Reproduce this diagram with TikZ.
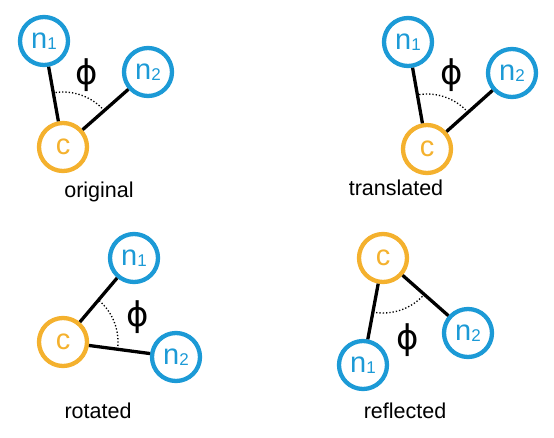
\documentclass[tikz,border=0pt]{standalone}
\usepackage{fontspec}
\setmainfont{Liberation Sans}
\newfontfamily\phifont{DejaVu Sans}
\usetikzlibrary{angles}
\definecolor{nblue}{HTML}{1C9AD6}
\definecolor{corange}{HTML}{F4B12E}
\newcommand{\nlab}[1]{n\raisebox{-1.5pt}{\fontsize{17}{17}\selectfont #1}}
\begin{document}
\begin{tikzpicture}[x=1pt,y=1pt,
  atom/.style={circle,line width=4.3pt,minimum size=48pt,inner sep=0pt,font=\fontsize{29}{29}\selectfont},
  nat/.style={atom,draw=nblue,text=nblue},
  cat/.style={atom,draw=corange,text=corange},
  bond/.style={line width=3.3pt,black},
  arcst/.style={draw,dotted,line width=1.3pt,angle radius=55pt},
  phil/.style={font=\phifont\fontsize{34}{34}\selectfont,inner sep=0pt},
  captxt/.style={font=\fontsize{21.5}{21.5}\selectfont,anchor=base,inner sep=0pt}]
\useasboundingbox (0,0) rectangle (554,-437);
% original
\node[nat] (a1) at (44,-41) {\nlab{1}};
\node[nat] (a2) at (148,-72) {\nlab{2}};
\node[cat] (ac) at (63,-147) {c};
\draw[bond] (ac) -- (a1);
\draw[bond] (ac) -- (a2);
\pic[arcst] {angle = a2--ac--a1};
\node[phil] (ap) at (87,-75) {ϕ};
\node[captxt] (at) at (99,-197) {original};
% translated
\node[nat] (b1) at (408,-42) {\nlab{1}};
\node[nat] (b2) at (512,-73) {\nlab{2}};
\node[cat] (bc) at (427,-149) {c};
\draw[bond] (bc) -- (b1);
\draw[bond] (bc) -- (b2);
\pic[arcst] {angle = b2--bc--b1};
\node[phil] (bp) at (452,-75) {ϕ};
\node[captxt] (bt) at (396,-195) {translated};
% rotated
\node[nat] (r1) at (134,-258) {\nlab{1}};
\node[nat] (r2) at (176,-357) {\nlab{2}};
\node[cat] (rc) at (63,-342) {c};
\draw[bond] (rc) -- (r1);
\draw[bond] (rc) -- (r2);
\pic[arcst] {angle = r2--rc--r1};
\node[phil] (rp) at (138,-317) {ϕ};
\node[captxt] (rt) at (98,-418) {rotated};
% reflected
\node[nat] (f1) at (363,-365) {\nlab{1}};
\node[nat] (f2) at (468,-333) {\nlab{2}};
\node[cat] (fc) at (383,-258) {c};
\draw[bond] (fc) -- (f1);
\draw[bond] (fc) -- (f2);
\pic[arcst] {angle = f1--fc--f2};
\node[phil] (fp) at (408,-340) {ϕ};
\node[captxt] (ft) at (405,-418) {reflected};
\end{tikzpicture}
\end{document}
